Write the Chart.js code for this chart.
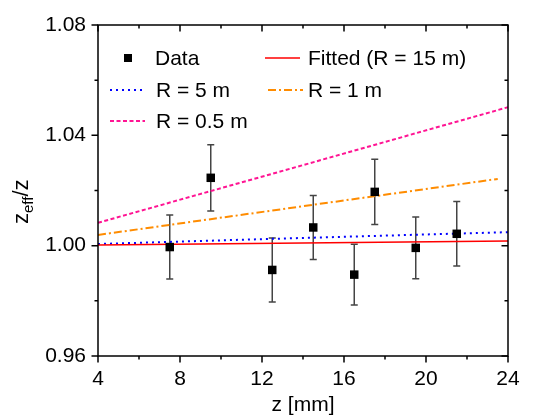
<!DOCTYPE html>
<html>
<head>
<meta charset="utf-8">
<script src="https://cdn.jsdelivr.net/npm/chart.js@4.4.1/dist/chart.umd.min.js"></script>
<style>
  html, body { margin: 0; padding: 0; background: #fff; }
  #wrap { width: 556px; height: 418px; }
</style>
</head>
<body>
<div id="wrap"><canvas id="myChart"></canvas></div>
<script>
// measured points with error bars
var zData = [7.5, 9.5, 12.5, 14.5, 16.5, 17.5, 19.5, 21.5];
var ratioData = [0.9995, 1.0246, 0.9912, 1.0066, 0.9895, 1.0195, 0.9992, 1.0043];
var ratioErr = [0.0116, 0.012, 0.0116, 0.0116, 0.011, 0.0118, 0.0112, 0.0117];

// model curves
var fitZ = [4, 14, 24];
var fitRatio = [1.0002, 1.001, 1.0017];
var r5Z = [4, 14, 24];
var r5Ratio = [1.0006, 1.0028, 1.0049];
var r1Z = [4, 14, 23.5];
var r1Ratio = [1.0039, 1.0143, 1.0242];
var r05Z = [4, 14, 24];
var r05Ratio = [1.0083, 1.0292, 1.0502];

var FONT = '"Liberation Sans", Arial, sans-serif';

function pts(xs, ys) {
  return xs.map(function(x, i) { return { x: x, y: ys[i] }; });
}

// error bars under the markers
var errorBars = {
  id: 'errorBars',
  beforeDatasetsDraw: function(chart) {
    var ctx = chart.ctx;
    var xs = chart.scales.x, ys = chart.scales.y;
    ctx.save();
    ctx.strokeStyle = '#444';
    ctx.lineWidth = 1.5;
    for (var i = 0; i < zData.length; i++) {
      var px = xs.getPixelForValue(zData[i]);
      var top = ys.getPixelForValue(ratioData[i] + ratioErr[i]);
      var bot = ys.getPixelForValue(ratioData[i] - ratioErr[i]);
      ctx.beginPath();
      ctx.moveTo(px, top); ctx.lineTo(px, bot);
      ctx.moveTo(px - 3.5, top); ctx.lineTo(px + 3.5, top);
      ctx.moveTo(px - 3.5, bot); ctx.lineTo(px + 3.5, bot);
      ctx.stroke();
    }
    ctx.restore();
  }
};

// frame, tick marks, y title and legend
var decorations = {
  id: 'decorations',
  afterDraw: function(chart) {
    var ctx = chart.ctx;
    var a = chart.chartArea;
    var xs = chart.scales.x, ys = chart.scales.y;
    ctx.save();
    ctx.strokeStyle = '#000';
    ctx.lineWidth = 1.5;
    ctx.strokeRect(a.left, a.top, a.right - a.left, a.bottom - a.top);

    ctx.beginPath();
    for (var v = 4; v <= 24; v += 2) {
      var px = xs.getPixelForValue(v);
      var len = (v % 4 === 0) ? 6.5 : 3.5;
      ctx.moveTo(px, a.bottom); ctx.lineTo(px, a.bottom + len);
      ctx.moveTo(px, a.top); ctx.lineTo(px, a.top + len);
    }
    for (var k = 0; k <= 6; k++) {
      var py = ys.getPixelForValue(0.96 + k * 0.02);
      var l2 = (k % 2 === 0) ? 6.5 : 3.5;
      ctx.moveTo(a.left, py); ctx.lineTo(a.left - l2, py);
      ctx.moveTo(a.right, py); ctx.lineTo(a.right - l2, py);
    }
    ctx.stroke();

    // y axis title z_eff/z
    ctx.fillStyle = '#000';
    ctx.translate(28, 224);
    ctx.rotate(-Math.PI / 2);
    ctx.textBaseline = 'alphabetic';
    ctx.textAlign = 'left';
    ctx.font = '22px ' + FONT;
    ctx.fillText('z', 0, 0);
    var w = ctx.measureText('z').width;
    ctx.font = '15px ' + FONT;
    ctx.fillText('eff', w, 5);
    w += ctx.measureText('eff').width;
    ctx.font = '22px ' + FONT;
    ctx.fillText('/z', w, 0);
    ctx.setTransform(1, 0, 0, 1, 0, 0);

    // legend
    var ds = chart.data.datasets;
    var items = [
      { d: 0, sx: 128, tx: 155, y: 58 },
      { d: 1, sx: 265, tx: 308, y: 58 },
      { d: 2, sx: 110, tx: 156, y: 90 },
      { d: 3, sx: 268, tx: 308, y: 90 },
      { d: 4, sx: 110, tx: 156, y: 121 }
    ];
    items.forEach(function(it) {
      var d = ds[it.d];
      if (d.showLine) {
        ctx.save();
        ctx.strokeStyle = d.borderColor;
        ctx.lineWidth = d.borderWidth;
        ctx.setLineDash(d.borderDash || []);
        ctx.beginPath();
        ctx.moveTo(it.sx, it.y);
        ctx.lineTo(it.sx + 35, it.y);
        ctx.stroke();
        ctx.restore();
      } else {
        ctx.fillStyle = '#000';
        ctx.fillRect(it.sx - 4, it.y - 4, 8, 8);
      }
      ctx.fillStyle = '#000';
      ctx.font = '21px ' + FONT;
      ctx.textBaseline = 'middle';
      ctx.fillText(d.label, it.tx, it.y + 1);
    });
    ctx.restore();
  }
};

var ctx = document.getElementById('myChart').getContext('2d');
var chart = new Chart(ctx, {
  type: 'scatter',
  data: {
    datasets: [
      {
        label: 'Data',
        data: pts(zData, ratioData),
        pointStyle: 'rect',
        pointRadius: 6,
        backgroundColor: '#000',
        borderColor: '#000',
        borderWidth: 0,
        showLine: false
      },
      {
        label: 'Fitted (R = 15 m)',
        data: pts(fitZ, fitRatio),
        showLine: true,
        borderColor: '#ff0000',
        borderWidth: 1.5,
        pointRadius: 0
      },
      {
        label: 'R = 5 m',
        data: pts(r5Z, r5Ratio),
        showLine: true,
        borderColor: '#0000ff',
        borderWidth: 2,
        borderDash: [2, 4],
        pointRadius: 0
      },
      {
        label: 'R = 1 m',
        data: pts(r1Z, r1Ratio),
        showLine: true,
        borderColor: '#ff8c00',
        borderWidth: 2,
        borderDash: [8, 3, 2, 3],
        pointRadius: 0
      },
      {
        label: 'R = 0.5 m',
        data: pts(r05Z, r05Ratio),
        showLine: true,
        borderColor: '#ff1493',
        borderWidth: 2,
        borderDash: [4, 2.5],
        pointRadius: 0
      }
    ]
  },
  options: {
    responsive: true,
    maintainAspectRatio: false,
    animation: false,
    layout: { padding: { left: 0, top: 25, right: 48, bottom: 0 } },
    plugins: {
      legend: { display: false },
      tooltip: { enabled: false }
    },
    scales: {
      x: {
        type: 'linear',
        min: 4,
        max: 24,
        afterFit: function(scale) { scale.height = 62; },
        grid: { drawOnChartArea: false, drawTicks: false },
        border: { display: false },
        ticks: {
          stepSize: 2,
          padding: 11,
          color: '#000',
          font: { family: FONT, size: 21 },
          maxRotation: 0,
          autoSkip: false,
          callback: function(v) { return (Math.round(v) % 4 === 0) ? String(Math.round(v)) : ''; }
        },
        title: {
          display: true,
          text: 'z [mm]',
          color: '#000',
          font: { family: FONT, size: 21 },
          padding: { top: 3, bottom: 0 }
        }
      },
      y: {
        type: 'linear',
        min: 0.96,
        max: 1.08,
        afterFit: function(scale) { scale.width = 98; },
        grid: { drawOnChartArea: false, drawTicks: false },
        border: { display: false },
        ticks: {
          stepSize: 0.02,
          padding: 12,
          color: '#000',
          font: { family: FONT, size: 21 },
          autoSkip: false,
          callback: function(v) {
            var n = Math.round(v * 100);
            return (n % 4 === 0) ? (n / 100).toFixed(2) : '';
          }
        }
      }
    }
  },
  plugins: [errorBars, decorations]
});
</script>
</body>
</html>
